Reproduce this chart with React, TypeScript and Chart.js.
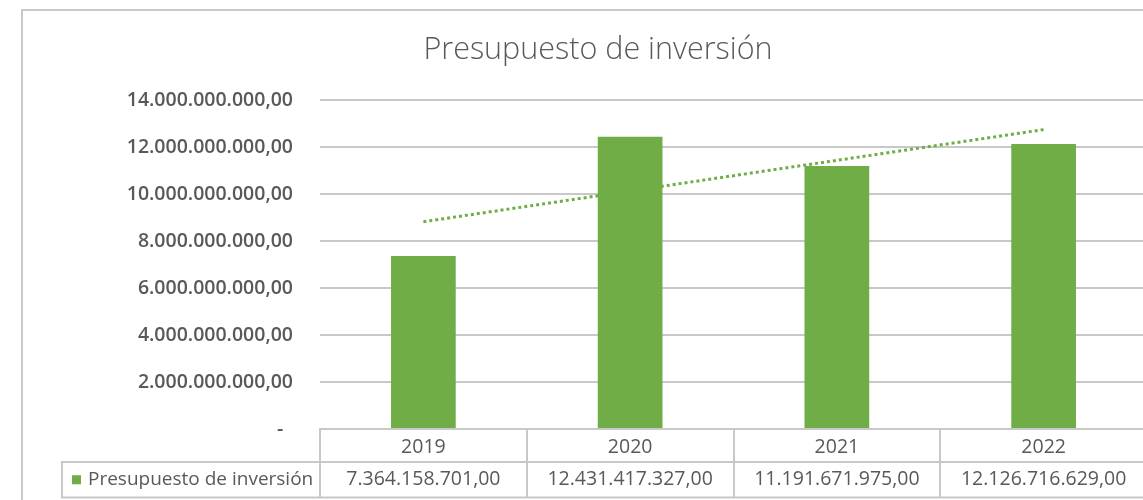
import React, { useEffect, useRef } from 'react';
import { Chart, registerables } from 'chart.js';

Chart.register(...registerables);

const chartTitle = 'Presupuesto de inversión';
const seriesLabel = 'Presupuesto de inversión';
const categories = ['2019', '2020', '2021', '2022'];
const budgetValues = [7364158701, 12431417327, 11191671975, 12126716629];
// Linear trendline endpoints (first and last category)
const trendValues: (number | null)[] = [8820000000, null, null, 12740000000];
const yMin = 0;
const yMax = 14000000000;
const yStep = 2000000000;

const GREEN = '#70AD47';
const TEXT = '#595959';
const LINE = '#c8c8c8';
const FONT = '"Open Sans", "Noto Sans", sans-serif';

function fmt(n: number): string {
  const [intPart, dec] = n.toFixed(2).split('.');
  return intPart.replace(/\B(?=(\d{3})+(?!\d))/g, '.') + ',' + dec;
}

const framePlugin = {
  id: 'frame',
  beforeDraw(chart: any) {
    const { ctx } = chart;
    ctx.save();
    ctx.fillStyle = '#ffffff';
    ctx.fillRect(0, 0, chart.width, chart.height);
    ctx.strokeStyle = LINE;
    ctx.lineWidth = 2;
    ctx.strokeRect(22, 10, 3000, 3000);
    ctx.restore();
  },
};

const dataTablePlugin = {
  id: 'dataTable',
  afterDraw(chart: any) {
    const { ctx, chartArea } = chart;
    const x = chart.scales.x;
    const n = categories.length;
    const cw = x.getPixelForValue(1) - x.getPixelForValue(0);
    const left = x.getPixelForValue(0) - cw / 2;
    const top = chartArea.bottom;
    const rowMid = 462;
    const bottom = 497.5;
    const legendLeft = 62;
    const farRight = chart.width;

    ctx.save();
    ctx.strokeStyle = LINE;
    ctx.lineWidth = 2;
    ctx.beginPath();
    ctx.moveTo(left, top);
    ctx.lineTo(farRight, top);
    ctx.moveTo(legendLeft, rowMid);
    ctx.lineTo(farRight, rowMid);
    ctx.moveTo(legendLeft, bottom);
    ctx.lineTo(farRight, bottom);
    ctx.moveTo(legendLeft, rowMid - 1);
    ctx.lineTo(legendLeft, bottom + 1);
    for (let i = 0; i <= n; i++) {
      const xx = Math.round(left + i * cw);
      ctx.moveTo(xx, top - 1);
      ctx.lineTo(xx, bottom + 1);
    }
    ctx.stroke();

    const valueY = (rowMid + bottom) / 2;
    ctx.fillStyle = TEXT;
    ctx.font = `19.5px ${FONT}`;
    ctx.textAlign = 'center';
    ctx.textBaseline = 'middle';
    const values = chart.data.datasets[0].data as number[];
    values.forEach((v, i) => {
      ctx.fillText(fmt(v), x.getPixelForValue(i), valueY);
    });

    ctx.fillStyle = chart.data.datasets[0].backgroundColor;
    ctx.fillRect(72, valueY - 4.5, 9, 9);
    ctx.fillStyle = TEXT;
    ctx.font = `19px ${FONT}`;
    ctx.textAlign = 'left';
    ctx.fillText(chart.data.datasets[0].label, 88, valueY);
    ctx.restore();
  },
};

export default function App() {
  const ref = useRef<HTMLCanvasElement>(null);

  useEffect(() => {
    const canvas = ref.current;
    if (!canvas) return;
    const chart = new Chart(canvas, {
      type: 'bar',
      data: {
        labels: categories,
        datasets: [
          {
            type: 'bar',
            label: seriesLabel,
            data: budgetValues,
            backgroundColor: GREEN,
            borderWidth: 0,
            categoryPercentage: 1,
            barPercentage: 0.313,
            order: 1,
          },
          {
            type: 'line',
            label: 'Lineal',
            data: trendValues,
            borderColor: GREEN,
            backgroundColor: GREEN,
            borderWidth: 3,
            borderDash: [3, 3],
            borderCapStyle: 'butt',
            pointRadius: 0,
            spanGaps: true,
            fill: false,
            tension: 0,
            order: 0,
          },
        ],
      } as any,
      options: {
        responsive: false,
        animation: false,
        devicePixelRatio: 1,
        layout: { padding: { left: 49, right: 49, top: 0, bottom: 0 } },
        plugins: {
          legend: { display: false },
          tooltip: { enabled: false },
          title: {
            display: true,
            text: chartTitle,
            color: TEXT,
            font: { family: FONT, size: 30.5, weight: '300' as any },
            padding: { top: 32, bottom: 31.4 },
          },
        },
        scales: {
          x: {
            grid: { display: false, drawTicks: false },
            border: { display: false },
            ticks: {
              color: TEXT,
              font: { family: FONT, size: 19.5 },
              padding: 7,
            },
            afterFit(scale: any) {
              scale.height = 71;
            },
          },
          y: {
            min: yMin,
            max: yMax,
            grid: { color: LINE, lineWidth: 2, drawTicks: false },
            border: { display: false },
            ticks: {
              stepSize: yStep,
              color: TEXT,
              padding: 27,
              font: { family: FONT, size: 19.5, weight: '600' as any },
              callback: (v: any) => (Number(v) === 0 ? '-\u2002' : fmt(Number(v))),
            },
            afterFit(scale: any) {
              scale.width = 271;
            },
          },
        },
      },
      plugins: [framePlugin, dataTablePlugin],
    });
    return () => chart.destroy();
  }, []);

  return (
    <div
      style={{
        position: 'fixed',
        left: 0,
        top: 0,
        width: 1143,
        height: 500,
        overflow: 'hidden',
        background: '#fff',
      }}
    >
      <canvas ref={ref} width={1196} height={500} style={{ display: 'block', width: 1196, height: 500 }} />
    </div>
  );
}
